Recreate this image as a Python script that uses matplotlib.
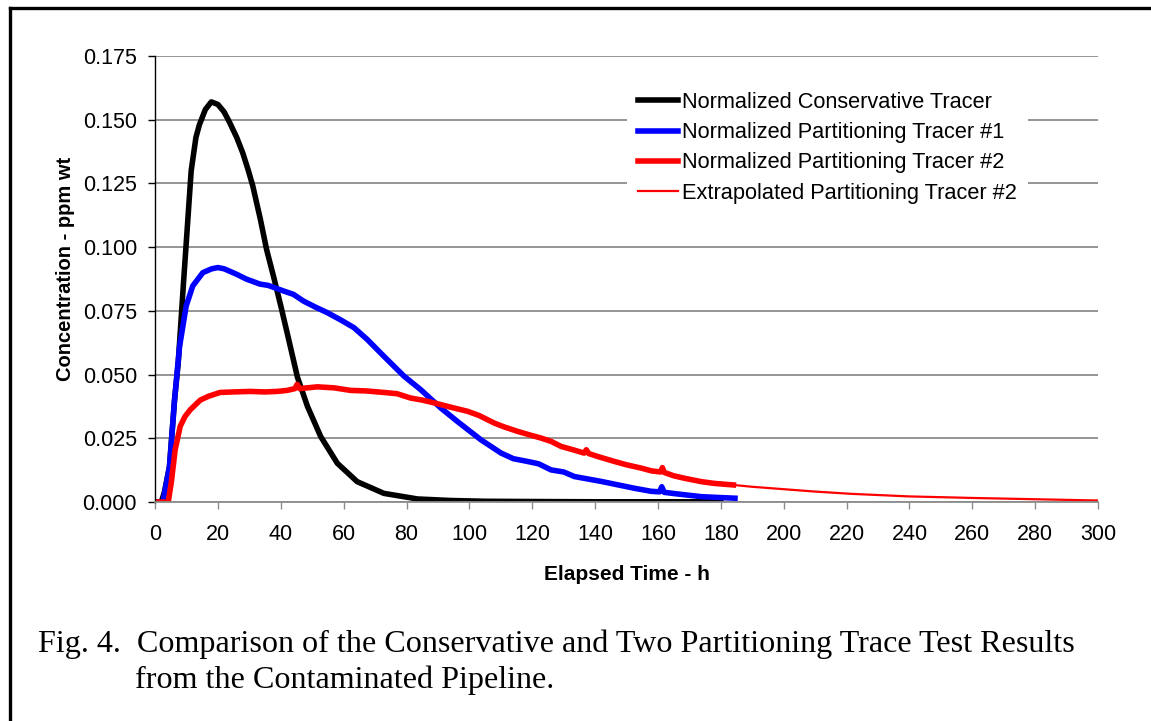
import matplotlib.pyplot as plt
from matplotlib.lines import Line2D

# Normalized conservative tracer (black)
consTime = [0, 2, 3, 4.6, 6.2, 7.4, 9.0, 10.5, 11.5, 13, 14.1, 16, 17.9, 20, 22, 23.7, 26, 27.9, 29.7, 31.1,
            33.5, 35.5, 37.8, 40, 42.1, 45.3, 48.5, 52.7, 58, 64.3, 72.8, 83.5, 94.1, 105, 120, 140, 160, 180]
consConc = [0, 0, 0.004, 0.014, 0.040, 0.055, 0.085, 0.112, 0.130, 0.143, 0.148, 0.154, 0.157, 0.156, 0.153,
            0.149, 0.143, 0.137, 0.130, 0.124, 0.111, 0.099, 0.088, 0.077, 0.066, 0.049, 0.0375, 0.0257,
            0.0152, 0.008, 0.0034, 0.0012, 0.0006, 0.0003, 0.0002, 0.0001, 0.0001, 0.0001]

# Normalized partitioning tracer #1 (blue)
p1Time = [0, 2.5, 4.6, 6.2, 7.8, 9.9, 12, 15.2, 18, 20, 22, 25.9, 29, 33.4, 36, 40.9, 44, 47.3, 51, 54.8,
          59, 63.3, 67.5, 72.8, 79.2, 84.5, 90.9, 96.2, 103.7, 110.1, 114, 118.6, 122, 126, 130, 133.4,
          137, 141.9, 147, 152.5, 157.9, 160.5, 161.2, 162, 166, 173.8, 179, 184.5]
p1Conc = [0, 0, 0.0139, 0.040, 0.061, 0.0769, 0.0848, 0.090, 0.0915, 0.092, 0.0915, 0.0894, 0.0875,
          0.0855, 0.085, 0.0828, 0.0815, 0.0788, 0.0765, 0.0743, 0.0715, 0.0684, 0.0638, 0.0572, 0.0494,
          0.0441, 0.0369, 0.0316, 0.0244, 0.0192, 0.0170, 0.0159, 0.0150, 0.0126, 0.0118, 0.0100, 0.0092,
          0.0081, 0.0068, 0.0054, 0.0042, 0.0040, 0.0060, 0.0038, 0.0032, 0.0021, 0.0018, 0.0015]

# Normalized partitioning tracer #2 (red)
p2Time = [0, 4.2, 5.2, 6.4, 8, 9.5, 11.2, 14.4, 17, 20.7, 25, 30.3, 35, 38.8, 42, 44.5, 45.2, 46, 51.6,
          57, 62.2, 67, 72.8, 77, 81.3, 85, 88.8, 94.1, 99.4, 103, 107.9, 111, 115.4, 119, 122.8, 126,
          129.2, 133, 136.5, 137.2, 138, 141, 146.2, 150, 154.7, 158, 160.8, 161.4, 162, 165, 168.5,
          173.8, 178, 184]
p2Conc = [0, 0, 0.008, 0.0205, 0.0297, 0.0335, 0.0362, 0.040, 0.0415, 0.043, 0.0432, 0.0434, 0.0432,
          0.0434, 0.0438, 0.0445, 0.0462, 0.0445, 0.0452, 0.0448, 0.0438, 0.0436, 0.043, 0.0425, 0.0408,
          0.040, 0.0389, 0.0372, 0.0356, 0.034, 0.031, 0.0295, 0.0277, 0.0264, 0.0251, 0.0238, 0.0218,
          0.0205, 0.0192, 0.0205, 0.019, 0.0178, 0.0159, 0.0146, 0.0133, 0.0122, 0.0118, 0.0135, 0.0116,
          0.0103, 0.0093, 0.0080, 0.0073, 0.0067]

# Extrapolated partitioning tracer #2 (thin red)
extTime = [184, 189.8, 200.4, 210, 221.7, 240, 253.6, 260, 280, 300]
extConc = [0.0067, 0.006, 0.005, 0.0041, 0.0032, 0.0022, 0.0018, 0.0016, 0.0011, 0.0006]

labels = ['Normalized Conservative Tracer', 'Normalized Partitioning Tracer #1',
          'Normalized Partitioning Tracer #2', 'Extrapolated Partitioning Tracer #2']
yticks = [0, 0.025, 0.05, 0.075, 0.1, 0.125, 0.15, 0.175]
xticks = list(range(0, 301, 20))

plt.rcParams['font.family'] = ['Liberation Sans', 'DejaVu Sans']

fig = plt.figure(figsize=(11.51, 7.21), dpi=100)
ax = fig.add_axes([0.1347, 0.3037, 0.8193, 0.6186])

ax.plot(consTime, consConc, color='black', lw=4, label=labels[0], solid_joinstyle='round')
ax.plot(p1Time, p1Conc, color='#0000ff', lw=4, label=labels[1], solid_joinstyle='round')
ax.plot(p2Time, p2Conc, color='#ff0000', lw=4, label=labels[2], solid_joinstyle='round')
ax.plot(extTime, extConc, color='#ff0000', lw=1.6, label=labels[3])

ax.set_xlim(0, 300)
ax.set_ylim(0, 0.175)
ax.set_xticks(xticks)
ax.set_yticks(yticks)
ax.set_yticklabels(['%.3f' % v for v in yticks])
ax.grid(axis='y', color='#8c8c8c', lw=1.3)
ax.set_axisbelow(True)

ax.spines['top'].set_visible(False)
ax.spines['right'].set_visible(False)
ax.spines['left'].set_color('black')
ax.spines['left'].set_linewidth(1.0)
ax.spines['bottom'].set_color('#8c8c8c')
ax.spines['bottom'].set_linewidth(1.3)
ax.tick_params(axis='y', direction='out', length=5, width=1, color='black', labelsize=15.5, pad=8)
ax.tick_params(axis='x', direction='out', length=5, width=1, color='#8c8c8c', labelsize=15.5, pad=11)

ax.set_xlabel('Elapsed Time - h', fontsize=15, fontweight='bold', labelpad=14)
ax.set_ylabel('Concentration - ppm wt', fontsize=14.5, fontweight='bold')
ax.yaxis.set_label_coords(-0.085, 0.522)

leg = ax.legend(loc='upper left', bbox_to_anchor=(0.501, 0.9435), borderaxespad=0, fontsize=15.7,
                frameon=True, fancybox=False, framealpha=1, handlelength=1.8, handletextpad=0.2,
                labelspacing=0.42, borderpad=0.5)
leg.get_frame().set_edgecolor('none')

# outer frame (left and top edges)
fig.add_artist(Line2D([9.5 / 1151, 9.5 / 1151], [0, 1 - 8 / 721], color='black', lw=2.4))
fig.add_artist(Line2D([9.5 / 1151, 1], [1 - 8 / 721, 1 - 8 / 721], color='black', lw=2.4))

fig.text(38 / 1151, 1 - 652 / 721, 'Fig. 4.  Comparison of the Conservative and Two Partitioning Trace Test Results',
         family='Liberation Serif', fontsize=23.1, va='baseline')
fig.text(135 / 1151, 1 - 688 / 721, 'from the Contaminated Pipeline.',
         family='Liberation Serif', fontsize=23.1, va='baseline')

fig.savefig('out.png', dpi=100)
